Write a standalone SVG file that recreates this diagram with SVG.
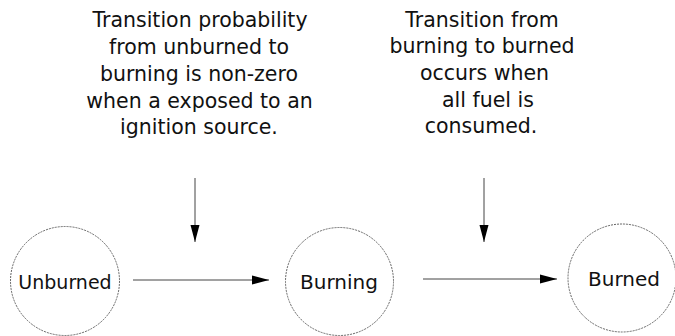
<svg xmlns="http://www.w3.org/2000/svg" width="675" height="336" viewBox="0 0 675 336">
<style>
.note{font-family:"DejaVu Sans",Verdana,sans-serif;font-size:20.5px;fill:#111;text-anchor:middle}
.lbl{font-family:"DejaVu Sans",Verdana,sans-serif;font-size:20px;fill:#111;text-anchor:middle}
.node{fill:#fff;stroke:#666;stroke-width:1;stroke-dasharray:2 1}
.edge{stroke:#444;stroke-width:1;fill:none}
</style>
<defs>
<marker id="ah" markerWidth="17" markerHeight="10" refX="17" refY="5" orient="auto" markerUnits="userSpaceOnUse">
<path d="M0,0.5 L17,5 L0,9.5 z" fill="#000"/>
</marker>
</defs>
<g id="note1">
<text class="note" x="200" y="27">Transition probability</text>
<text class="note" x="199" y="54">from unburned to</text>
<text class="note" x="199" y="81">burning is non-zero</text>
<text class="note" x="199.5" y="108">when a exposed to an</text>
<text class="note" x="199" y="134">ignition source.</text>
</g>
<g id="note2">
<text class="note" x="482" y="27">Transition from</text>
<text class="note" x="482" y="53">burning to burned</text>
<text class="note" x="484.5" y="80">occurs when</text>
<text class="note" x="488" y="107">all fuel is</text>
<text class="note" x="481" y="133">consumed.</text>
</g>
<g id="unburned">
<circle class="node" cx="65" cy="281" r="54.5"/>
<text class="lbl" x="65" y="289" style="font-size:19px">Unburned</text>
</g>
<g id="burning">
<circle class="node" cx="339.5" cy="281.5" r="54"/>
<text class="lbl" x="339" y="289">Burning</text>
</g>
<g id="burned">
<circle class="node" cx="622" cy="278" r="54"/>
<text class="lbl" x="624" y="286">Burned</text>
</g>
<g id="connectors">
<line class="edge" x1="133" y1="280" x2="269" y2="280" marker-end="url(#ah)"/>
<line class="edge" x1="423" y1="279" x2="557" y2="279" marker-end="url(#ah)"/>
<line class="edge" x1="195" y1="178" x2="195" y2="242" marker-end="url(#ah)"/>
<line class="edge" x1="484" y1="178" x2="484" y2="242" marker-end="url(#ah)"/>
</g>
</svg>
